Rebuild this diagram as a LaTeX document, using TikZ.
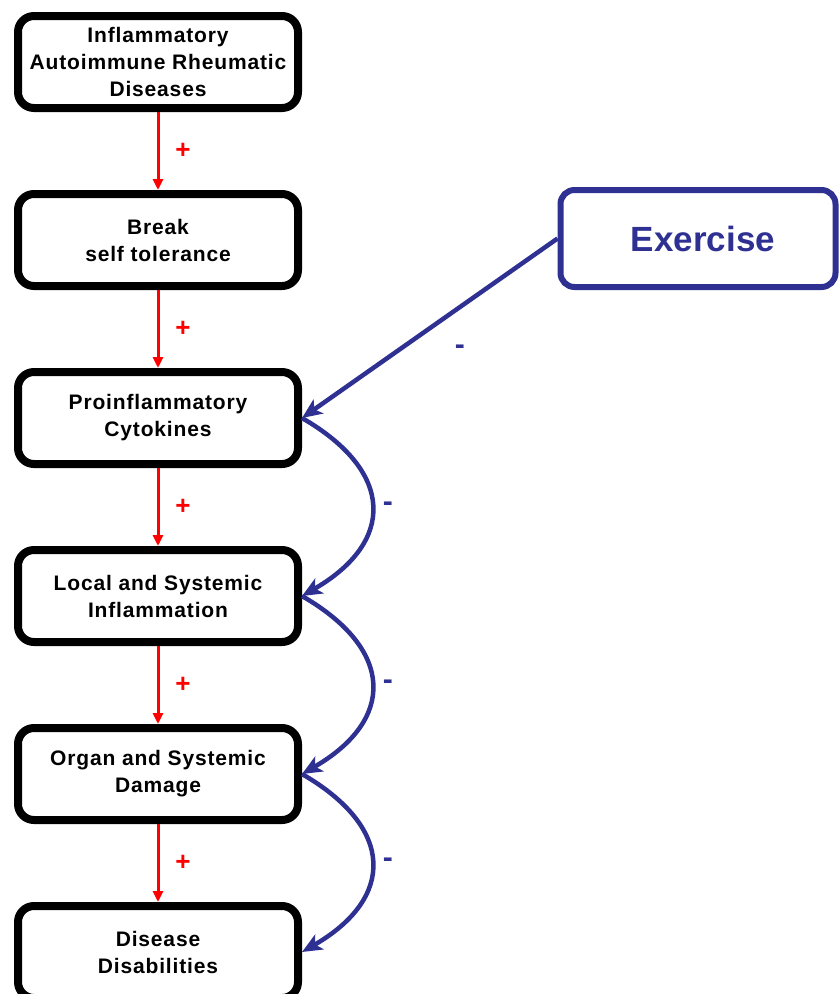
\documentclass[tikz,border=0pt]{standalone}
\usepackage{fontspec}
\setmainfont{Liberation Sans}
\usepackage{tikz}
\usetikzlibrary{arrows.meta, positioning}
\definecolor{exblue}{HTML}{2E3192}
\definecolor{posred}{HTML}{FF0000}

\tikzset{
  stagebox/.style={draw=black, line width=8pt, rounded corners=16pt, fill=white,
    minimum width=280pt, minimum height=92pt, align=center, inner sep=2pt,
    font=\addfontfeatures{LetterSpace=4}\fontsize{21}{27}\selectfont\bfseries},
  exbox/.style={draw=exblue, line width=6pt, rounded corners=14pt, fill=white,
    minimum width=275pt, minimum height=97pt, text=exblue,
    font=\fontsize{35}{40}\selectfont\bfseries},
  plusarrow/.style={draw=posred, line width=3pt, -{Triangle[length=11pt,width=10pt]}},
  minusarrow/.style={draw=exblue, line width=4.5pt, -{Stealth[length=20pt,width=17pt,inset=5pt]}},
  plus/.style={text=posred, font=\fontsize{26}{26}\selectfont\bfseries, inner sep=0pt},
  minus/.style={text=exblue, font=\fontsize{30}{30}\selectfont\bfseries, inner sep=0pt}
}

\begin{document}
\begin{tikzpicture}[x=1pt, y=1pt, node distance=78pt]
  \useasboundingbox (0,0) rectangle (839,-994);

  % Left chain
  \node[stagebox] (ards) at (158,-62) {Inflammatory\\Autoimmune Rheumatic\\Diseases};
  \node[stagebox, below=of ards] (breaktol) {Break\\self tolerance};
  \node[stagebox, below=of breaktol] (cytok) {Proinflammatory\\Cytokines};
  \node[stagebox, below=of cytok] (inflam) {Local and Systemic\\Inflammation};
  \node[stagebox, below=of inflam] (damage) {Organ and Systemic\\Damage};
  \node[stagebox, below=of damage] (disab) {Disease\\Disabilities};

  % Exercise
  \node[exbox] (exer) at (698,-238.5) {\hspace*{10pt}Exercise};

  % Red + arrows
  \draw[plusarrow] (ards) -- node[plus, midway, xshift=25pt] {+} (breaktol);
  \draw[plusarrow] (breaktol) -- node[plus, midway, xshift=25pt] {+} (cytok);
  \draw[plusarrow] (cytok) -- node[plus, midway, xshift=25pt] {+} (inflam);
  \draw[plusarrow] (inflam) -- node[plus, midway, xshift=25pt] {+} (damage);
  \draw[plusarrow] (damage) -- node[plus, midway, xshift=25pt] {+} (disab);

  % Blue - arrows
  \draw[minusarrow] (exer.west) -- node[minus, midway, xshift=30pt, yshift=-21pt] {-} (cytok.east);
  \draw[minusarrow] (cytok.east) to[out=-30, in=30, looseness=1.55] node[minus, midway, xshift=16pt] {-} (inflam.east);
  \draw[minusarrow] (inflam.east) to[out=-30, in=30, looseness=1.55] node[minus, midway, xshift=16pt] {-} (damage.east);
  \draw[minusarrow] (damage.east) to[out=-30, in=30, looseness=1.55] node[minus, midway, xshift=16pt] {-} (disab.east);
\end{tikzpicture}
\end{document}
